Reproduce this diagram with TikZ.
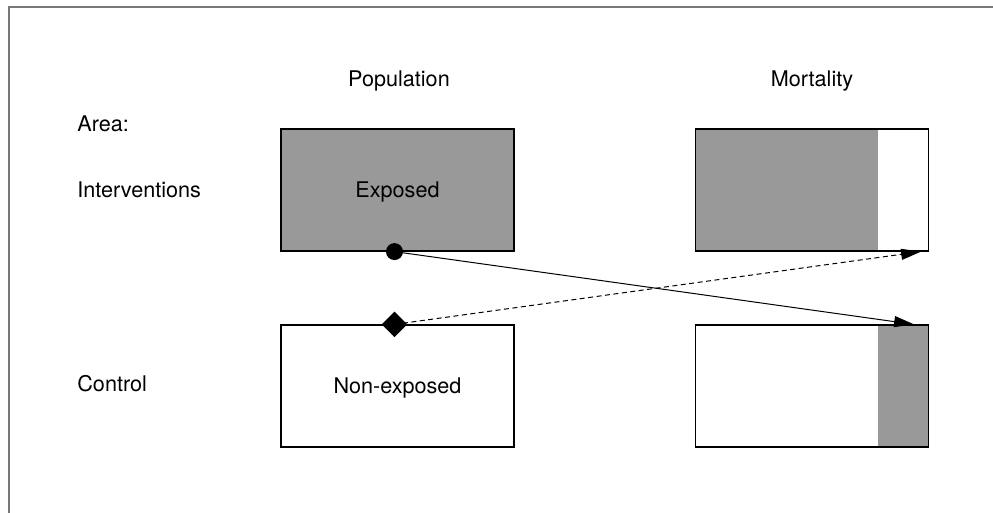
\documentclass[tikz,border=0pt]{standalone}
\usepackage{fontspec}
\setmainfont{TeX Gyre Heros}
\usetikzlibrary{arrows.meta,shapes.geometric,positioning}
\definecolor{boxgrey}{RGB}{153,153,153}
\definecolor{framegrey}{RGB}{120,120,120}
\tikzset{
    cell/.style={draw, line width=0.6pt, minimum width=116.5pt, minimum height=61pt, inner sep=0pt, text depth=0pt}, % 方框
    lab/.style={anchor=base west, inner sep=0pt}, % 左侧的行标签
    head/.style={anchor=base, inner sep=0pt}, % 列标题
    link/.style={line width=0.5pt, -{Triangle[length=10pt, width=5.5pt]}} % 箭头
}

\begin{document}
\begin{tikzpicture}[x=0.5pt, y=-0.5pt, font=\fontsize{10.8}{13}\selectfont]
    \useasboundingbox (0,0) rectangle (993,513);
    \draw[framegrey, line width=1pt] (8.5,513) |- (993,7.5);

    \node[head] (popu) at (399,87) {Population};
    \node[head] (mort) at (812,87) {Mortality};
    \node[lab] (area) at (77,132) {Area:};
    \node[lab] (interv) at (77,198) {Interventions};
    \node[lab] (contr) at (77,392) {Control};

    \node[cell, fill=boxgrey] (expo) at (397.5,190) {Exposed};
    \node[cell] (nonexp) at (397.5,386) {Non-exposed};
    \node[cell, path picture={\fill[boxgrey] (path picture bounding box.north west) rectangle ([xshift=-25.5pt]path picture bounding box.south east);}] (mortI) at (812,190) {};
    \node[cell, path picture={\fill[boxgrey] (path picture bounding box.south east) rectangle ([xshift=-25.5pt]path picture bounding box.north east);}] (mortII) at (812,386) {};

    \coordinate (tipA) at ([xshift=-4pt]mortI.south east);
    \coordinate (tipB) at ([xshift=-7.5pt]mortII.north east);

    \draw[link] ([xshift=-1.5pt]expo.south) -- (tipB);
    \draw[link, dash pattern=on 2.5pt off 1.75pt] ([xshift=-1.5pt]nonexp.north) -- (tipA);
    \node[circle, fill, inner sep=0pt, minimum size=8.5pt] (dotA) at ([xshift=-1.5pt]expo.south) {};
    \node[diamond, fill, inner sep=0pt, minimum size=13pt] (diaB) at ([xshift=-1.5pt]nonexp.north) {};
\end{tikzpicture}
\end{document}
